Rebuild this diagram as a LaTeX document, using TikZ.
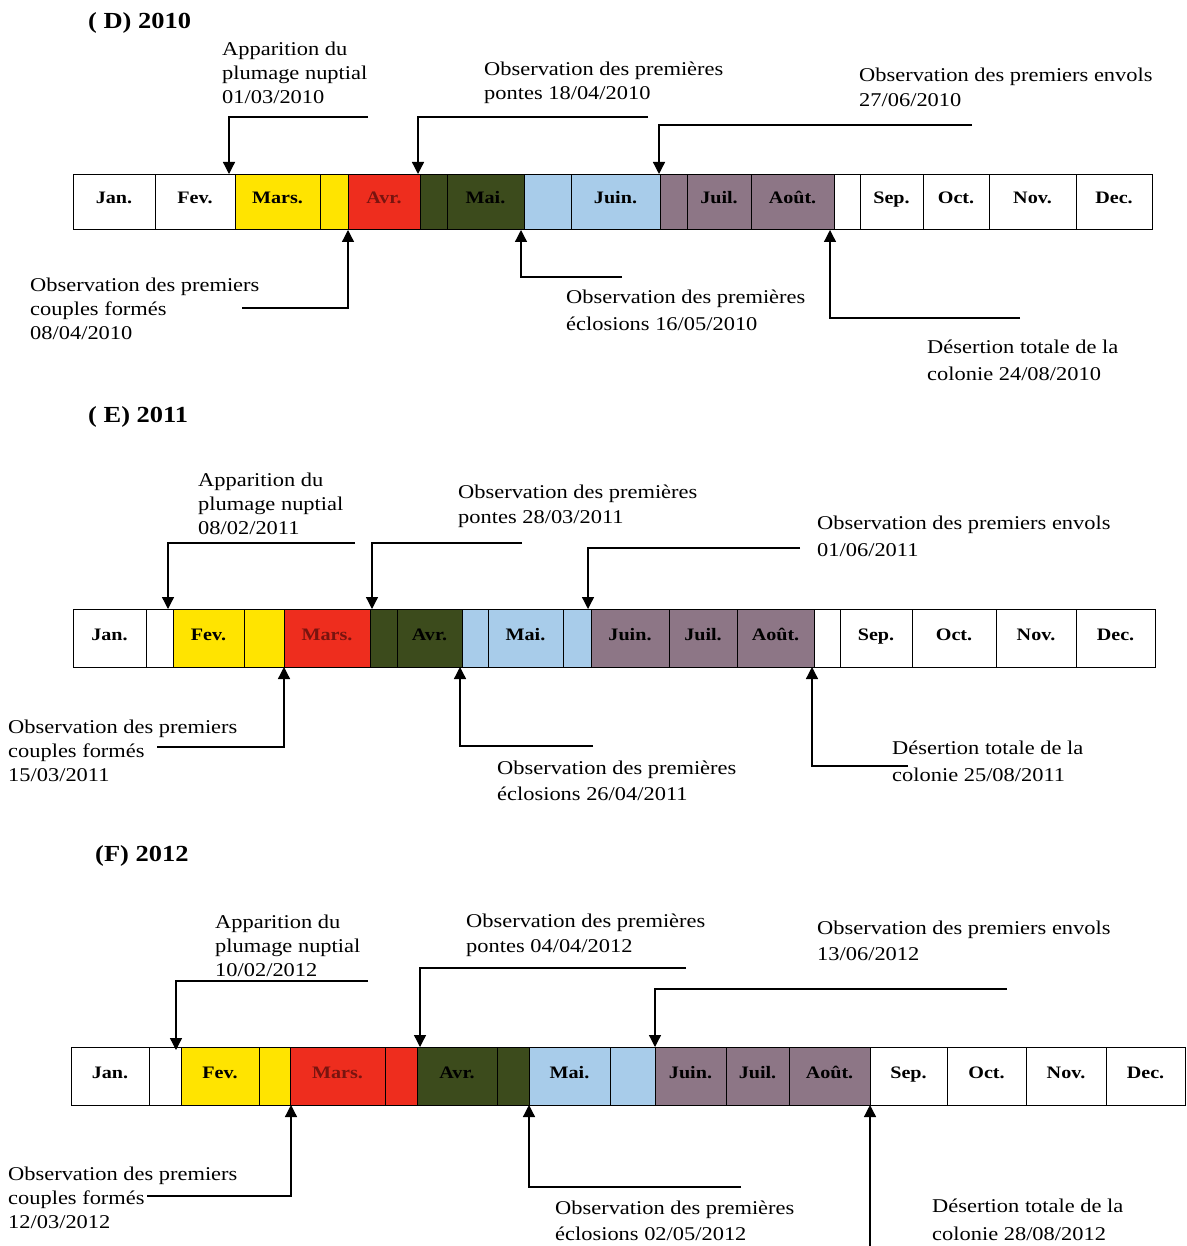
\documentclass[tikz,border=0pt]{standalone}
\usepackage{fontspec}
\setmainfont[FakeStretch=1.15]{Liberation Serif}
\usetikzlibrary{arrows.meta}
\definecolor{cyel}{RGB}{255,228,0}
\definecolor{cred}{RGB}{238,45,30}
\definecolor{cdred}{RGB}{120,20,15}
\definecolor{cgrn}{RGB}{60,75,28}
\definecolor{cblu}{RGB}{168,204,234}
\definecolor{cmau}{RGB}{141,118,134}
\begin{document}
\begin{tikzpicture}[x=1pt,y=-1pt,
  cell/.style={draw=black, line width=0.9pt, inner sep=0pt, outer sep=0pt,
    text height=12pt, text depth=8pt,
    font=\fontsize{17.5}{20}\selectfont\bfseries},
  lbl/.style={anchor=base west, inner sep=0pt, align=left,
    font=\fontsize{19.5}{#1}\selectfont},
  lbl/.default=24,
  ttl/.style={anchor=base west, inner sep=0pt, font=\fontsize{23}{28}\selectfont\bfseries},
  conn/.style={line width=1.3pt, -{Triangle[length=12pt,width=12pt]}}]
\fill[white] (0,0) rectangle (1186,1246);
\useasboundingbox (0,0) rectangle (1186,1246);

% ---------------- (D) 2010 ----------------
\node[ttl] (tD) at (88,29) {( D) 2010};
\foreach \a/\b/\c/\tc/\t [count=\i] in {
  73/155/white/black/Jan., 155/235/white/black/Fev., 235/320/cyel/black/Mars.,
  320/348/cyel/black/{}, 348/420/cred/cdred/Avr., 420/447/cgrn/black/{},
  447/524/cgrn/black/Mai., 524/571/cblu/black/{}, 571/660/cblu/black/Juin.,
  660/687/cmau/black/{}, 687/751/cmau/black/Juil., 751/834/cmau/black/Août.,
  834/860/white/black/{}, 860/923/white/black/Sep., 923/989/white/black/Oct.,
  989/1076/white/black/Nov., 1076/1152/white/black/Dec.}
  \node[cell, fill=\c, text=\tc, minimum width={(\b-\a)*1pt}, minimum height=55pt]
    (D\i) at ({(\a+\b)/2},202) {\t};

\node[lbl] (Dplum) at (222,104) {Apparition du\\plumage nuptial\\01/03/2010};
\node[lbl] (Dpont) at (484,100) {Observation des premières\\pontes 18/04/2010};
\node[lbl=25] (Denv) at (859,107) {Observation des premiers envols\\27/06/2010};
\node[lbl] (Dcoup) at (30,339) {Observation des premiers\\couples formés\\08/04/2010};
\node[lbl=26] (Decl) at (566,330) {Observation des premières\\éclosions 16/05/2010};
\node[lbl=27] (Ddes) at (927,380) {Désertion totale de la\\colonie 24/08/2010};

\coordinate (DplumS) at (368,117); \coordinate (DplumT) at (229,174);
\coordinate (DpontS) at (648,117); \coordinate (DpontT) at (418,174);
\coordinate (DenvS)  at (972,125); \coordinate (DenvT)  at (659,174);
\coordinate (DcoupS) at (242,308); \coordinate (DcoupT) at (348,230);
\coordinate (DeclS)  at (622,277); \coordinate (DeclT)  at (521,230);
\coordinate (DdesS)  at (1020,318); \coordinate (DdesT) at (830,230);
\draw[conn] (DplumS) -| (DplumT);
\draw[conn] (DpontS) -| (DpontT);
\draw[conn] (DenvS) -| (DenvT);
\draw[conn] (DcoupS) -| (DcoupT);
\draw[conn] (DeclS) -| (DeclT);
\draw[conn] (DdesS) -| (DdesT);

% ---------------- (E) 2011 ----------------
\node[ttl] (tE) at (88,422) {( E) 2011};
\foreach \a/\b/\c/\tc/\t [count=\i] in {
  73/146/white/black/Jan., 146/173/white/black/{}, 173/244/cyel/black/Fev.,
  244/284/cyel/black/{}, 284/370/cred/cdred/Mars., 370/397/cgrn/black/{},
  397/462/cgrn/black/Avr., 462/488/cblu/black/{}, 488/563/cblu/black/Mai.,
  563/591/cblu/black/{}, 591/669/cmau/black/Juin., 669/737/cmau/black/Juil.,
  737/814/cmau/black/Août., 814/840/white/black/{}, 840/912/white/black/Sep.,
  912/996/white/black/Oct., 996/1076/white/black/Nov., 1076/1155/white/black/Dec.}
  \node[cell, fill=\c, text=\tc, minimum width={(\b-\a)*1pt}, minimum height=58pt]
    (E\i) at ({(\a+\b)/2},638) {\t};

\node[lbl] (Eplum) at (198,534) {Apparition du\\plumage nuptial\\08/02/2011};
\node[lbl=25] (Epont) at (458,523) {Observation des premières\\pontes 28/03/2011};
\node[lbl=27] (Eenv) at (817,556) {Observation des premiers envols\\01/06/2011};
\node[lbl] (Ecoup) at (8,781) {Observation des premiers\\couples formés\\15/03/2011};
\node[lbl=26] (Eecl) at (497,800) {Observation des premières\\éclosions 26/04/2011};
\node[lbl=27] (Edes) at (892,781) {Désertion totale de la\\colonie 25/08/2011};

\coordinate (EplumS) at (355,543); \coordinate (EplumT) at (168,609);
\coordinate (EpontS) at (522,543); \coordinate (EpontT) at (372,609);
\coordinate (EenvS)  at (800,548); \coordinate (EenvT)  at (588,609);
\coordinate (EcoupS) at (157,747); \coordinate (EcoupT) at (284,667);
\coordinate (EeclS)  at (593,746); \coordinate (EeclT)  at (460,667);
\coordinate (EdesS)  at (908,766); \coordinate (EdesT)  at (812,667);
\draw[conn] (EplumS) -| (EplumT);
\draw[conn] (EpontS) -| (EpontT);
\draw[conn] (EenvS) -| (EenvT);
\draw[conn] (EcoupS) -| (EcoupT);
\draw[conn] (EeclS) -| (EeclT);
\draw[conn] (EdesS) -| (EdesT);

% ---------------- (F) 2012 ----------------
\node[ttl] (tF) at (95,861) {(F) 2012};
\foreach \a/\b/\c/\tc/\t [count=\i] in {
  71/149/white/black/Jan., 149/181/white/black/{}, 181/259/cyel/black/Fev.,
  259/290/cyel/black/{}, 290/385/cred/cdred/Mars., 385/417/cred/cdred/{},
  417/497/cgrn/black/Avr., 497/529/cgrn/black/{}, 529/610/cblu/black/Mai.,
  610/655/cblu/black/{}, 655/726/cmau/black/Juin., 726/789/cmau/black/Juil.,
  789/870/cmau/black/Août., 870/947/white/black/Sep., 947/1026/white/black/Oct.,
  1026/1106/white/black/Nov., 1106/1185/white/black/Dec.}
  \node[cell, fill=\c, text=\tc, minimum width={(\b-\a)*1pt}, minimum height=58pt]
    (F\i) at ({(\a+\b)/2},1076) {\t};

\node[lbl] (Fplum) at (215,976) {Apparition du\\plumage nuptial\\10/02/2012};
\node[lbl=25] (Fpont) at (466,952) {Observation des premières\\pontes 04/04/2012};
\node[lbl=26] (Fenv) at (817,960) {Observation des premiers envols\\13/06/2012};
\node[lbl] (Fcoup) at (8,1228) {Observation des premiers\\couples formés\\12/03/2012};
\node[lbl=26] (Fecl) at (555,1240) {Observation des premières\\éclosions 02/05/2012};
\node[lbl=28] (Fdes) at (932,1240) {Désertion totale de la\\colonie 28/08/2012};

\coordinate (FplumS) at (368,981); \coordinate (FplumT) at (176,1050);
\coordinate (FpontS) at (686,968); \coordinate (FpontT) at (420,1047);
\coordinate (FenvS)  at (1007,989); \coordinate (FenvT) at (655,1047);
\coordinate (FcoupS) at (147,1196); \coordinate (FcoupT) at (291,1105);
\coordinate (FeclS)  at (741,1187); \coordinate (FeclT)  at (529,1105);
\coordinate (FdesS)  at (870,1246); \coordinate (FdesT)  at (870,1105);
\draw[conn] (FplumS) -| (FplumT);
\draw[conn] (FpontS) -| (FpontT);
\draw[conn] (FenvS) -| (FenvT);
\draw[conn] (FcoupS) -| (FcoupT);
\draw[conn] (FeclS) -| (FeclT);
\draw[conn] (FdesS) -- (FdesT);
\end{tikzpicture}
\end{document}
